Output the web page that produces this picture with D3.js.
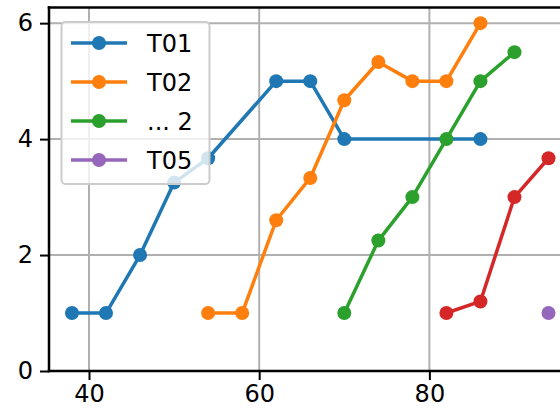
<!DOCTYPE html>
<meta charset="utf-8">
<style>
    body { margin: 0; background: #fff; }
    svg { display: block; font-family: "DejaVu Sans", sans-serif; }
</style>
<script src="https://d3js.org/d3.v7.min.js"></script>
<svg id="chart" width="560" height="419"></svg>
<script>

// series data (x, y)
var t01 = [[38,1],[42,1],[46,2],[50,3.25],[54,3.67],[62,5],[66,5],[70,4],[86,4]];
var t02 = [[54,1],[58,1],[62,2.6],[66,3.33],[70,4.67],[74,5.33],[78,5],[82,5],[86,6]];
var t03 = [[70,1],[74,2.25],[78,3],[82,4],[86,5],[90,5.5]];
var t04 = [[82,1],[86,1.2],[90,3],[94,3.67]];
var t05 = [[94,1]];

var seriesColors = ["#1f77b4", "#ff7f0e", "#2ca02c", "#d62728", "#9467bd"];
var legendLabels = ["T01", "T02", "... 2", "T05"];
var legendColors = ["#1f77b4", "#ff7f0e", "#2ca02c", "#9467bd"];

var xTicks = [40, 60, 80];
var yTicks = [0, 2, 4, 6];

var series = [t01, t02, t03, t04, t05];

var svg = d3.select("#chart");

// axes box (runs off the right edge, as in the picture)
var mLeft = 49, mTop = 7.5, mBottom = 371, mRight = 620;

var x = d3.scaleLinear().domain([35.3, 102.4]).range([mLeft, mRight]);
var y = d3.scaleLinear().domain([0, 6.27]).range([mBottom, mTop]);

svg.append("clipPath").attr("id", "plotclip")
    .append("rect")
    .attr("x", mLeft).attr("y", mTop)
    .attr("width", mRight - mLeft).attr("height", mBottom - mTop);

// grid
var grid = svg.append("g");
grid.selectAll(".gx")
    .data(xTicks)
    .enter().append("line")
        .attr("x1", function(d) { return x(d); })
        .attr("x2", function(d) { return x(d); })
        .attr("y1", mTop).attr("y2", mBottom)
        .attr("stroke", "#b0b0b0").attr("stroke-width", 2);
grid.selectAll(".gy")
    .data(yTicks)
    .enter().append("line")
        .attr("x1", mLeft).attr("x2", mRight)
        .attr("y1", function(d) { return y(d); })
        .attr("y2", function(d) { return y(d); })
        .attr("stroke", "#b0b0b0").attr("stroke-width", 2);

// lines + markers
var line = d3.line()
    .x(function(d) { return x(d[0]); })
    .y(function(d) { return y(d[1]); });

var plot = svg.append("g").attr("clip-path", "url(#plotclip)");
series.forEach(function(s, i) {
    plot.append("path")
        .datum(s)
        .attr("d", line)
        .attr("fill", "none")
        .attr("stroke", seriesColors[i])
        .attr("stroke-width", 3.5)
        .attr("stroke-linejoin", "round");
    plot.selectAll(".m" + i)
        .data(s)
        .enter().append("circle")
            .attr("cx", function(d) { return x(d[0]); })
            .attr("cy", function(d) { return y(d[1]); })
            .attr("r", 7)
            .attr("fill", seriesColors[i]);
});

// axes
var xAxis = d3.axisBottom(x).tickValues(xTicks).tickSize(9).tickPadding(5).tickFormat(d3.format("d"));
var yAxis = d3.axisLeft(y).tickValues(yTicks).tickSize(9).tickPadding(7).tickFormat(d3.format("d"));

var gx = svg.append("g").attr("transform", "translate(0," + mBottom + ")").call(xAxis);
var gy = svg.append("g").attr("transform", "translate(" + mLeft + ",0)").call(yAxis);

[gx, gy].forEach(function(g) {
    g.attr("font-size", 24).attr("font-family", "DejaVu Sans");
    g.select(".domain").remove();
    g.selectAll(".tick line").attr("stroke", "#000").attr("stroke-width", 2);
    g.selectAll(".tick text").attr("fill", "#000");
});

// spines
svg.append("line").attr("x1", mLeft).attr("x2", mLeft).attr("y1", mTop).attr("y2", mBottom)
    .attr("stroke", "#000").attr("stroke-width", 2.5).attr("stroke-linecap", "square");
svg.append("line").attr("x1", mLeft).attr("x2", mRight).attr("y1", mBottom).attr("y2", mBottom)
    .attr("stroke", "#000").attr("stroke-width", 2.5).attr("stroke-linecap", "square");
svg.append("line").attr("x1", mLeft).attr("x2", mRight).attr("y1", mTop).attr("y2", mTop)
    .attr("stroke", "#000").attr("stroke-width", 2.5).attr("stroke-linecap", "square");

// legend
var legend = svg.append("g");
legend.append("rect")
    .attr("x", 61.5).attr("y", 22)
    .attr("width", 148).attr("height", 162)
    .attr("rx", 4)
    .attr("fill", "#fff").attr("fill-opacity", 0.8)
    .attr("stroke", "#cccccc").attr("stroke-width", 2);

var entries = legend.selectAll(".entry")
    .data(legendLabels)
    .enter().append("g")
        .attr("transform", function(d, i) { return "translate(0," + (43 + i * 39) + ")"; });

entries.append("line")
    .attr("x1", 71).attr("x2", 127)
    .attr("stroke", function(d, i) { return legendColors[i]; })
    .attr("stroke-width", 3.5);
entries.append("circle")
    .attr("cx", 99).attr("r", 7)
    .attr("fill", function(d, i) { return legendColors[i]; });
entries.append("text")
    .attr("x", 147)
    .attr("y", 8.5)
    .attr("font-size", 24)
    .attr("font-family", "DejaVu Sans")
    .text(function(d) { return d; });

</script>
